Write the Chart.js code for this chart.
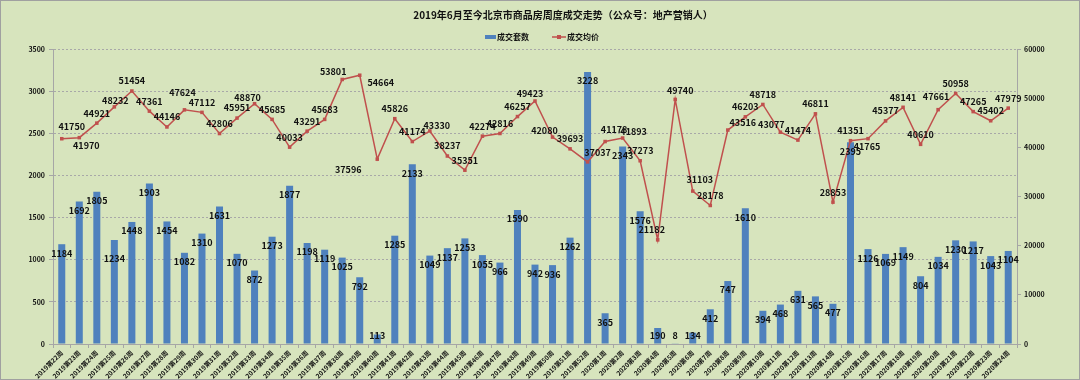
<!DOCTYPE html>
<html>
<head>
<meta charset="utf-8">
<script src="https://cdn.jsdelivr.net/npm/chart.js@4/dist/chart.umd.min.js"></script>
<style>
html,body{margin:0;padding:0;background:#d7e4bd;}
#wrap{width:1080px;height:380px;position:relative;}
canvas{display:block;}
</style>
</head>
<body>
<div id="wrap"><canvas id="c" width="1080" height="380"></canvas></div>
<script>
// ---- data ----
const categories = [
  "2019第22周","2019第23周","2019第24周","2019第25周","2019第26周","2019第27周","2019第28周","2019第29周",
  "2019第30周","2019第31周","2019第32周","2019第33周","2019第34周","2019第35周","2019第36周","2019第37周",
  "2019第38周","2019第39周","2019第40周","2019第41周","2019第42周","2019第43周","2019第44周","2019第45周",
  "2019第46周","2019第47周","2019第48周","2019第49周","2019第50周","2019第51周","2019第52周",
  "2020第1周","2020第2周","2020第3周","2020第4周","2020第5周","2020第6周","2020第7周","2020第8周",
  "2020第9周","2020第10周","2020第11周","2020第12周","2020第13周","2020第14周","2020第15周","2020第16周",
  "2020第17周","2020第18周","2020第19周","2020第20周","2020第21周","2020第22周","2020第23周","2020第24周"
];
const volumeSeries = [
  1184,1692,1805,1234,1448,1903,1454,1082,1310,1631,1070,872,1273,1877,1198,1119,1025,792,113,1285,
  2133,1049,1137,1253,1055,966,1590,942,936,1262,3228,
  365,2343,1576,190,8,134,412,747,1610,394,468,631,565,477,2395,1126,1069,1149,804,1034,1230,1217,1043,1104
];
const priceSeries = [
  41750,41970,44921,48232,51454,47361,44146,47624,47112,42806,45951,48870,45685,40033,43291,45683,53801,54664,37596,45826,
  41174,43330,38237,35351,42274,42816,46257,49423,42080,39693,37037,
  41178,41893,37273,21182,49740,31103,28178,43516,46203,48718,43077,41474,46811,28853,41351,41765,45377,48141,40610,47661,50958,47265,45402,47979
];
const leftTicks = [0,500,1000,1500,2000,2500,3000,3500];
const rightTicks = [0,10000,20000,30000,40000,50000,60000];
const seriesNames = ["成交套数","成交均价"];
const titleText = "2019年6月至今北京市商品房周度成交走势（公众号：地产营销人）";

// ---- style ----
const BG = '#d7e4bd';
const BAR = '#4f81bd';
const LINE = '#c0504d';
const AXIS = '#a6a6a6';
const FONT = '"Noto Sans CJK SC","Noto Sans",sans-serif';
// label nudges for the price labels (index -> [dx, dy]); default is above the point
const priceLabelNudge = {
  0:[10,-12],1:[7,8],3:[1,-6],7:[-2,-17],11:[-7,-6],16:[-9,-8],17:[21,7],18:[-29,10],
  21:[7,-5],27:[-5,-7],28:[-8,-7],30:[10,-9],31:[9,-12],32:[11,-6],34:[-6,-10],35:[5,-9],
  36:[7,-11],38:[15,-7],41:[-9,-8],46:[-1,8],50:[-2,-13]
};
const barLabelNudge = {3:10};

const bgPlugin = {
  id:'bg',
  beforeDraw(chart){
    const ctx = chart.ctx;
    ctx.save();
    ctx.fillStyle = BG;
    ctx.fillRect(0,0,chart.width,chart.height);
    ctx.strokeStyle = '#a0a0a0';
    ctx.lineWidth = 1;
    ctx.strokeRect(0.5,0.5,chart.width-1,chart.height-1);
    ctx.restore();
  },
  afterDraw(chart){
    const ctx = chart.ctx;
    ctx.save();
    ctx.fillStyle = '#111';
    ctx.font = 'bold 10px ' + FONT;
    ctx.textAlign = 'center';
    ctx.textBaseline = 'middle';
    ctx.fillText(titleText, 563, 15);
    // legend
    ctx.font = 'bold 8px ' + FONT;
    ctx.textAlign = 'left';
    ctx.fillStyle = BAR;
    ctx.fillRect(485,35,11,4);
    ctx.fillStyle = '#111';
    ctx.fillText(seriesNames[0], 497, 37);
    ctx.strokeStyle = LINE;
    ctx.lineWidth = 1.5;
    ctx.beginPath(); ctx.moveTo(552,37); ctx.lineTo(566,37); ctx.stroke();
    ctx.fillStyle = LINE;
    ctx.fillRect(557,35,4,4);
    ctx.fillStyle = '#111';
    ctx.fillText(seriesNames[1], 567, 37);
    ctx.restore();
  }
};

const labelPlugin = {
  id:'vlabels',
  afterDatasetsDraw(chart){
    const ctx = chart.ctx;
    ctx.save();
    ctx.font = 'bold 9px ' + FONT;
    ctx.fillStyle = '#111';
    ctx.textAlign = 'center';
    ctx.textBaseline = 'middle';
    const barMeta = chart.getDatasetMeta(1);
    barMeta.data.forEach((el,i)=>{
      let y = Math.min(el.y + 9, chart.chartArea.bottom - 8);
      y += (barLabelNudge[i]||0);
      ctx.fillText(String(volumeSeries[i]), el.x, y);
    });
    const lineMeta = chart.getDatasetMeta(0);
    lineMeta.data.forEach((el,i)=>{
      const n = priceLabelNudge[i] || [0,-10];
      ctx.fillText(String(priceSeries[i]), el.x + n[0], el.y + n[1]);
    });
    ctx.restore();
  }
};

new Chart(document.getElementById('c'), {
  type:'bar',
  data:{
    labels: categories,
    datasets:[
      {
        type:'line', label:seriesNames[1], data:priceSeries, yAxisID:'y1', order:0,
        borderColor:LINE, backgroundColor:LINE, borderWidth:1.5, tension:0,
        pointStyle:'rect', pointRadius:2.5, pointBackgroundColor:LINE, pointBorderColor:LINE, pointBorderWidth:0
      },
      {
        type:'bar', label:seriesNames[0], data:volumeSeries, yAxisID:'y', order:1,
        backgroundColor:BAR, borderWidth:0, barPercentage:0.4, categoryPercentage:1
      }
    ]
  },
  options:{
    responsive:false,
    animation:false,
    devicePixelRatio:1,
    layout:{padding:{top:49,left:0,right:0,bottom:0}},
    plugins:{legend:{display:false}, title:{display:false}, tooltip:{enabled:false}},
    scales:{
      x:{
        grid:{drawOnChartArea:false, color:AXIS, tickLength:4, offset:true},
        border:{color:AXIS, width:1},
        ticks:{autoSkip:false, minRotation:45, maxRotation:45, color:'#111', padding:1,
               font:{size:6.5, weight:'bold', family:FONT}},
        afterFit(s){ s.height = 36; }
      },
      y:{
        position:'left', min:0, max:3500,
        afterBuildTicks(s){ s.ticks = leftTicks.map(v=>({value:v})); },
        grid:{color:'#a8a8a8', lineWidth:1, tickLength:4, tickColor:AXIS},
        border:{color:AXIS, width:1, dash:[2,2]},
        ticks:{color:'#111', padding:4, font:{size:7, weight:'bold', family:FONT},
               callback:(v)=>String(v)},
        afterFit(s){ s.width = 53; }
      },
      y1:{
        position:'right', min:0, max:60000,
        afterBuildTicks(s){ s.ticks = rightTicks.map(v=>({value:v})); },
        grid:{drawOnChartArea:false, color:AXIS, tickLength:4},
        border:{color:AXIS, width:1},
        ticks:{color:'#111', padding:3, font:{size:7, weight:'bold', family:FONT},
               callback:(v)=>String(v)},
        afterFit(s){ s.width = 63; }
      }
    }
  },
  plugins:[bgPlugin, labelPlugin]
});
</script>
</body>
</html>
